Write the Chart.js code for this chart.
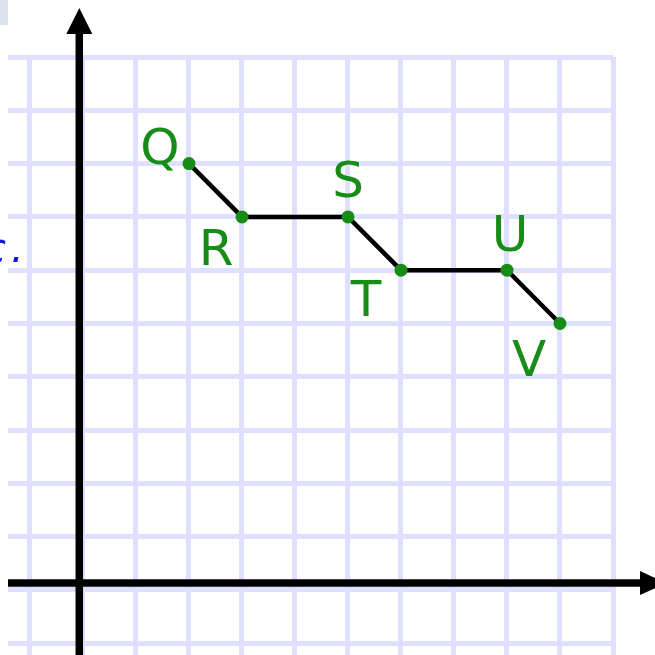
<!DOCTYPE html>
<html>
<head>
<meta charset="utf-8">
<script src="https://cdn.jsdelivr.net/npm/chart.js@4/dist/chart.umd.min.js"></script>
<style>
  html, body { margin: 0; padding: 0; background: #ffffff; }
  canvas { display: block; }
</style>
</head>
<body>
<canvas id="graph" width="655" height="655"></canvas>
<script>
// points on the grid (grid squares from the origin)
const pointNames = ['Q', 'R', 'S', 'T', 'U', 'V'];
const xValues = [2, 3, 5, 6, 8, 9];
const yValues = [8, 7, 7, 6, 6, 5];

// grid line positions
const xGridTicks = [-1, 0, 1, 2, 3, 4, 5, 6, 7, 8, 9, 10];
const yGridTicks = [-1, 0, 1, 2, 3, 4, 5, 6, 7, 8, 9, 10];

const green = '#178c17';
const gridColor = '#dfdfff';

// where each letter sits relative to its dot (pixels)
const labelOffsets = [[-29, -15], [-26, 30], [0, -38], [-35, 28], [3, -37], [-31, 35]];

// hand drawn axes, just off the zero grid lines
const axesPlugin = {
    id: 'axes',
    beforeDraw(chart) {
        const ctx = chart.ctx;
        ctx.save();
        ctx.fillStyle = '#ffffff';
        ctx.fillRect(0, 0, chart.width, chart.height);
        // scrap of the page above
        ctx.fillStyle = '#dde2ec';
        ctx.fillRect(0, 0, 8, 25);
        ctx.restore();
    },
    beforeDatasetsDraw(chart) {
        const ctx = chart.ctx;
        const xs = chart.scales.x;
        const ys = chart.scales.y;
        const ax = xs.getPixelForValue(-0.07);
        const ay = ys.getPixelForValue(0.13);
        const area = chart.chartArea;
        ctx.save();
        ctx.strokeStyle = '#000000';
        ctx.fillStyle = '#000000';
        ctx.lineWidth = 7.5;
        ctx.lineCap = 'butt';

        // y axis
        ctx.beginPath();
        ctx.moveTo(ax, chart.height);
        ctx.lineTo(ax, 30);
        ctx.stroke();
        ctx.beginPath();
        ctx.moveTo(ax, 8);
        ctx.lineTo(ax - 13, 34);
        ctx.lineTo(ax + 13, 34);
        ctx.closePath();
        ctx.fill();

        // x axis
        ctx.beginPath();
        ctx.moveTo(area.left, ay);
        ctx.lineTo(644, ay);
        ctx.stroke();
        ctx.beginPath();
        ctx.moveTo(666, ay);
        ctx.lineTo(640, ay - 12);
        ctx.lineTo(640, ay + 12);
        ctx.closePath();
        ctx.fill();

        // cut off note on the left
        ctx.fillStyle = '#1414e6';
        ctx.font = 'italic 40px "DejaVu Sans"';
        ctx.letterSpacing = '5px';
        ctx.textBaseline = 'alphabetic';
        ctx.fillText('c.', -16, 262);
        ctx.restore();
    },
    afterDatasetsDraw(chart) {
        const ctx = chart.ctx;
        const meta = chart.getDatasetMeta(0);
        ctx.save();
        ctx.fillStyle = green;
        ctx.font = '50px "DejaVu Sans"';
        ctx.textAlign = 'center';
        ctx.textBaseline = 'alphabetic';
        meta.data.forEach((pt, i) => {
            const m = ctx.measureText(pointNames[i]);
            const h = m.actualBoundingBoxAscent - m.actualBoundingBoxDescent;
            const off = labelOffsets[i];
            ctx.fillText(pointNames[i], pt.x + off[0], pt.y + off[1] + h / 2);
        });
        ctx.restore();
    }
};

const ctx = document.getElementById('graph').getContext('2d');
const graph = new Chart(ctx, {
    type: 'scatter',
    data: {
        datasets: [
            {
                label: 'path',
                data: xValues.map((x, i) => ({ x: x, y: yValues[i] })),
                showLine: true,
                borderColor: '#000000',
                borderWidth: 4.5,
                tension: 0,
                pointRadius: 6.5,
                pointBackgroundColor: green,
                pointBorderWidth: 0,
                clip: false
            }
        ]
    },
    options: {
        responsive: false,
        animation: false,
        devicePixelRatio: 1,
        layout: { autoPadding: false, padding: { left: 8, top: 57, right: 42, bottom: 0 } },
        plugins: {
            legend: { display: false },
            tooltip: { enabled: false }
        },
        scales: {
            x: {
                type: 'linear',
                min: -1.415,
                max: 10,
                afterBuildTicks: axis => { axis.ticks = xGridTicks.map(v => ({ value: v })); },
                afterFit: axis => { axis.height = 0; },
                grid: { color: gridColor, lineWidth: 5, drawTicks: false },
                border: { display: false },
                ticks: { display: false }
            },
            y: {
                type: 'linear',
                min: -1.22,
                max: 10,
                afterBuildTicks: axis => { axis.ticks = yGridTicks.map(v => ({ value: v })); },
                afterFit: axis => { axis.width = 0; },
                grid: { color: gridColor, lineWidth: 5, drawTicks: false },
                border: { display: false },
                ticks: { display: false }
            }
        }
    },
    plugins: [axesPlugin]
});
</script>
</body>
</html>
